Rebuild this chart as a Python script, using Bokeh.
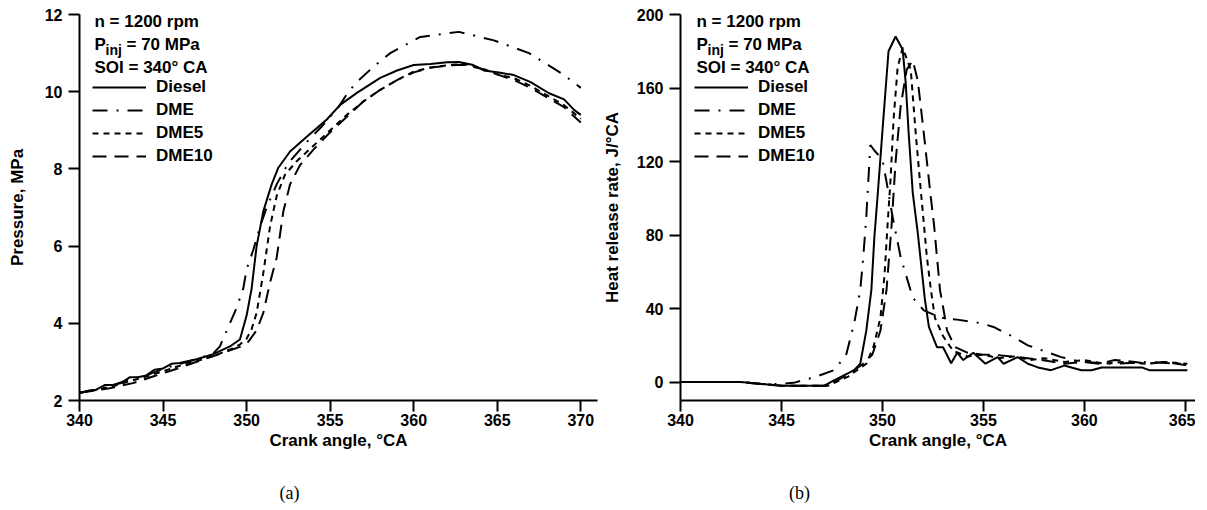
from bokeh.plotting import figure
from bokeh.models import Legend, LegendItem, Label, FixedTicker, Range1d
from bokeh.layouts import row, column
from bokeh.embed import file_html
from bokeh.resources import INLINE

FONT = "Liberation Sans"

# ---------------- (a) Cylinder pressure ----------------
p_xticks = [340, 345, 350, 355, 360, 365, 370]
p_yticks = [2, 4, 6, 8, 10, 12]

ca_diesel_p = [340, 340.5, 341, 341.5, 342, 342.5, 343, 343.5, 344, 344.5, 345, 345.5, 346, 347, 348, 349,
               349.6, 350, 350.3, 350.6, 351, 351.5, 351.9, 352.6, 353.6, 354.8, 355.6, 356.6, 358, 359, 360,
               361, 362, 362.7, 363.5, 364.2, 365.1, 366, 367, 368.1, 369, 369.6, 370]
p_diesel = [2.2, 2.25, 2.28, 2.4, 2.4, 2.45, 2.6, 2.6, 2.65, 2.8, 2.83, 2.95, 2.97, 3.07, 3.2, 3.4,
            3.58, 4.2, 4.9, 6.0, 6.9, 7.6, 8.03, 8.45, 8.83, 9.28, 9.66, 9.97, 10.36, 10.55, 10.69,
            10.72, 10.76, 10.77, 10.7, 10.55, 10.5, 10.43, 10.25, 9.96, 9.8, 9.53, 9.4]

ca_dme_p = [340, 341, 342, 343, 344, 345, 346, 347, 348, 348.4, 349.0, 349.4, 349.8, 350.0, 350.4, 350.8,
            351.2, 351.8, 352.5, 353.5, 354.5, 355.5, 356.1, 356.6, 357.6, 358.6, 360.4, 362.7, 364.8,
            366.9, 369.0, 370]
p_dme = [2.2, 2.28, 2.4, 2.55, 2.65, 2.82, 2.95, 3.07, 3.22, 3.4, 4.0, 4.4, 4.9, 5.4, 5.9, 6.5,
         7.0, 7.6, 8.15, 8.65, 9.1, 9.6, 10.0, 10.25, 10.65, 11.0, 11.42, 11.55, 11.33,
         11.0, 10.43, 10.1]

ca_dme5_p = [340, 341, 342, 343, 344, 345, 346, 347, 348, 349, 349.6, 350.0, 350.3, 350.6, 351.0, 351.4,
             351.8, 352.3, 353, 354, 355, 356, 357, 358, 359, 360, 361, 362, 363, 364, 365, 366, 367,
             368, 369, 370]
p_dme5 = [2.2, 2.27, 2.37, 2.5, 2.62, 2.76, 2.9, 3.02, 3.15, 3.32, 3.45, 3.6, 3.85, 4.27, 5.3, 6.5,
          7.3, 7.85, 8.2, 8.6, 9.0, 9.4, 9.75, 10.05, 10.3, 10.52, 10.63, 10.68, 10.72, 10.62, 10.45,
          10.35, 10.15, 9.9, 9.65, 9.3]

ca_dme10_p = [340, 341.8, 343.2, 344.4, 345.6, 346.8, 348.2, 349.6, 350.1, 350.6, 351.0, 351.4, 351.8,
              352.2, 352.6, 353.2, 354, 355, 356, 357, 358, 359, 360, 361, 362, 363, 364, 365, 366,
              367, 368, 369, 370]
p_dme10 = [2.2, 2.32, 2.45, 2.62, 2.79, 2.97, 3.18, 3.39, 3.52, 3.82, 4.27, 5.05, 5.7,
           6.9, 7.6, 8.1, 8.5, 8.95, 9.35, 9.75, 10.05, 10.3, 10.5, 10.62, 10.68, 10.7, 10.6, 10.45,
           10.3, 10.1, 9.85, 9.6, 9.2]

# ---------------- (b) Heat release rate ----------------
h_xticks = [340, 345, 350, 355, 360, 365]
h_yticks = [0, 40, 80, 120, 160, 200]

ca_diesel_h = [340, 343, 344, 345, 347.1, 347.6, 348.6, 348.9, 349.2, 349.45, 349.6, 349.75, 350.05, 350.3,
               350.65, 351.0, 351.15, 351.3, 351.5, 351.75, 352.1, 352.3, 352.5, 352.7, 353.0, 353.4,
               353.7, 354.0, 354.5, 355.1, 355.7, 356.0, 356.7, 357.2, 357.7, 358.35, 359.0, 359.85,
               360.35, 360.85, 362.85, 363.2, 365.1]
hrr_diesel = [0, 0, -1, -2, -2, 1, 6.5, 10, 28, 50, 79, 100, 144, 180,
              188, 181, 163, 135, 103, 81, 45, 30, 24.5, 19, 19, 10.3,
              16, 12, 16, 10, 13.6, 10, 13.6, 10, 8, 6.5, 9, 6.5,
              6.5, 8, 8, 6.5, 6.5]

ca_dme_h = [340, 343, 344, 345, 345.6, 346.7, 347.6, 348.2, 348.6, 348.9, 349.05, 349.2, 349.4, 349.6,
            350.0, 350.25, 350.5, 350.9, 351.5, 352.05, 352.9, 353.7, 354.9, 355.5, 356.5, 357.2,
            358.85, 359.85, 361.5, 363.2, 364.5, 365.1]
hrr_dme = [0, 0, -1, -1, -0.4, 2.9, 6.5, 14.7, 32, 50, 68, 90, 129, 126,
           121, 106, 90, 68, 46, 39, 35, 34, 32, 30, 24.5, 20,
           13.6, 11, 10, 11, 10, 10]

ca_dme5_h = [340, 343, 344, 345, 347.3, 348.3, 349.2, 349.55, 349.9, 350.1, 350.25, 350.4, 350.55, 350.75,
             351.0, 351.4, 351.65, 351.9, 352.05, 352.2, 352.4, 352.6, 353.0, 353.5, 354.2, 355,
             355.7, 356.5, 357.3, 358, 359, 360, 361, 362, 363, 364, 365.1]
hrr_dme5 = [0, 0, -1, -2, -2, 3, 10, 19, 35, 58, 85, 110, 143, 171,
            182, 170, 135, 104, 86, 68, 50, 35, 25, 17, 14, 15,
            13, 14, 12, 13, 11, 12, 10, 11, 10, 11, 10]

ca_dme10_h = [340, 343, 344, 345, 347.3, 348.4, 349.05, 349.5, 349.9, 350.2, 350.45, 350.65, 350.9, 351.2,
              351.5, 351.75, 352.0, 352.2, 352.4, 352.55, 352.7, 352.85, 353.0, 353.2, 353.6, 354.2,
              354.9, 355.7, 356.7, 357.9, 359.0, 360.0, 360.7, 361.5, 362.5, 363.2, 364, 365.1]
hrr_dme10 = [0, 0, -1, -2, -2, 5, 10, 15, 28, 50, 85, 120, 150, 170,
             175, 164, 140, 120, 100, 86, 68, 50, 41, 28, 19, 16,
             15, 14.7, 13.6, 12, 10, 11, 10, 12, 11, 10, 11, 9]

fuels = ["Diesel", "DME", "DME5", "DME10"]
dashes = ["solid", "15 9 2 9", "6 5", "14 8"]
header = ["n = 1200 rpm", "P", "inj", "= 70 MPa", "SOI = 340\u00b0 CA"]
panel_letters = ["(a)", "(b)"]


def style(p, xticks, yticks, xlabel, ylabel, ylab_standoff):
    p.outline_line_color = None
    p.xgrid.visible = False
    p.ygrid.visible = False
    p.xaxis.ticker = FixedTicker(ticks=xticks)
    p.yaxis.ticker = FixedTicker(ticks=yticks)
    p.xaxis.axis_label = xlabel
    p.yaxis.axis_label = ylabel
    for ax in (p.xaxis[0], p.yaxis[0]):
        ax.axis_line_width = 2
        ax.axis_line_color = "black"
        ax.major_tick_line_width = 2
        ax.major_tick_line_color = "black"
        ax.major_tick_out = 11
        ax.major_tick_in = 0
        ax.minor_tick_out = 0
        ax.minor_tick_in = 0
        ax.major_label_text_font = FONT
        ax.major_label_text_font_style = "bold"
        ax.major_label_text_font_size = "16px"
        ax.major_label_text_color = "black"
        ax.axis_label_text_font = FONT
        ax.axis_label_text_font_style = "bold"
        ax.axis_label_text_font_size = "17px"
        ax.axis_label_text_color = "black"
    p.xaxis.major_label_standoff = 2
    p.xaxis.axis_label_standoff = 2
    p.yaxis.major_label_standoff = 6
    p.yaxis.axis_label_standoff = ylab_standoff


def add_series(p, xs, ys, leg_x, leg_y, hx):
    rs = []
    for x, y, d in zip(xs, ys, dashes):
        rs.append(p.line(x, y, line_color="black", line_width=2, line_dash=d))
    items = [LegendItem(label=f, renderers=[r]) for f, r in zip(fuels, rs)]
    leg = Legend(items=items, location=(leg_x, leg_y), padding=0, margin=0, spacing=3,
                 glyph_width=54, glyph_height=20, label_height=20, label_standoff=10,
                 border_line_color=None, background_fill_alpha=0,
                 label_text_font=FONT, label_text_font_style="bold",
                 label_text_font_size="17px", label_text_color="black")
    p.add_layout(leg)
    common = dict(x_units="screen", y_units="screen", text_font=FONT, text_font_style="bold",
                  text_color="black", text_baseline="alphabetic")
    p.add_layout(Label(x=hx, y=379, text=header[0], text_font_size="17px", **common))
    p.add_layout(Label(x=hx, y=356, text=header[1], text_font_size="17px", **common))
    p.add_layout(Label(x=hx + 11, y=351, text=header[2], text_font_size="14px", **common))
    p.add_layout(Label(x=hx + 32, y=356, text=header[3], text_font_size="17px", **common))
    p.add_layout(Label(x=hx, y=333, text=header[4], text_font_size="17px", **common))


H = 479
p1 = figure(width=599, height=H, x_range=Range1d(340, 371), y_range=Range1d(2, 12),
            min_border_left=79, min_border_right=2, min_border_top=14, min_border_bottom=H - 400,
            output_backend="svg", toolbar_location=None)
style(p1, p_xticks, p_yticks, "Crank angle, \u00b0CA", "Pressure, MPa", 15)
add_series(p1, [ca_diesel_p, ca_dme_p, ca_dme5_p, ca_dme10_p],
           [p_diesel, p_dme, p_dme5, p_dme10], 13, 234, 15)

p2 = figure(width=596, height=H, x_range=Range1d(340, 365.5), y_range=Range1d(-10, 200),
            min_border_left=81, min_border_right=0, min_border_top=14, min_border_bottom=H - 400,
            output_backend="svg", toolbar_location=None)
style(p2, h_xticks, h_yticks, "Crank angle, \u00b0CA", "Heat release rate, J/\u00b0CA", 12)
add_series(p2, [ca_diesel_h, ca_dme_h, ca_dme5_h, ca_dme10_h],
           [hrr_diesel, hrr_dme, hrr_dme5, hrr_dme10], 14, 234, 16)

# strip with the panel letters
p3 = figure(width=1195, height=26, x_range=Range1d(0, 1195), y_range=Range1d(0, 26),
            min_border=0, output_backend="svg", toolbar_location=None)
p3.axis.visible = False
p3.xgrid.visible = False
p3.ygrid.visible = False
p3.outline_line_color = None
for letter, xc in zip(panel_letters, [289, 799]):
    p3.add_layout(Label(x=xc, y=13, text=letter, text_font="Liberation Serif",
                        text_font_size="18px", text_color="black",
                        text_align="center", text_baseline="middle"))

layout = column(row(p1, p2), p3)
open("out.html", "w").write(file_html(layout, INLINE))
